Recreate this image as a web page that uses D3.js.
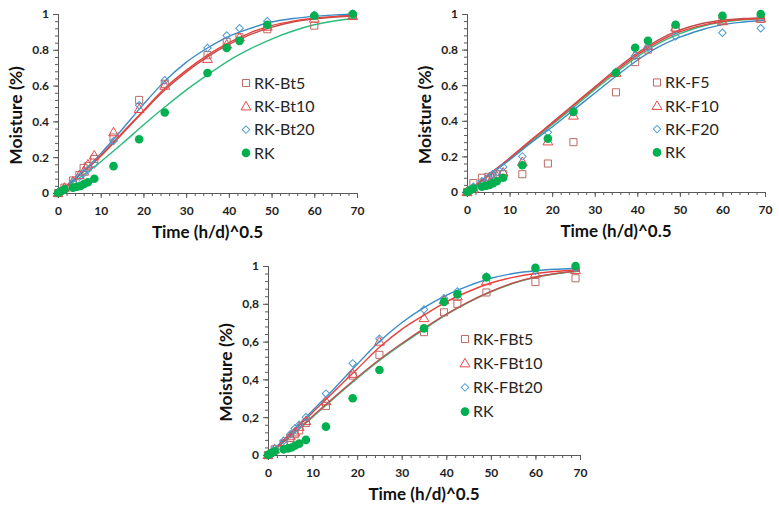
<!DOCTYPE html>
<html>
<head>
<meta charset="utf-8">
<script src="https://cdn.jsdelivr.net/npm/d3@7"></script>
<style>
  body { margin: 0; background: #fff; }
  text { font-family: Lato, "Open Sans", sans-serif; }
</style>
</head>
<body>
<svg id="chart" width="779" height="509"></svg>
<script>
// measured times, (h/d)^0.5
const timeX = [0, 1.5, 3.5, 5, 6, 7, 8.5, 13, 19, 25, 35, 39.5, 42.5, 49, 60, 69];
const rkX = [0, 0.7, 1.5, 3.5, 4.5, 5.3, 6.1, 7, 8.5, 13, 19, 25, 35, 39.5, 42.5, 49, 60, 69];
const rkY = [0, 0.01, 0.02, 0.03, 0.035, 0.04, 0.05, 0.06, 0.08, 0.15, 0.30, 0.45, 0.67, 0.81, 0.85, 0.94, 0.99, 1.0];

// panel 1 - bentonite
const bt5 = [0, 0.03, 0.07, 0.10, 0.14, 0.15, 0.19, 0.31, 0.52, 0.61, 0.77, 0.845, 0.87, 0.915, 0.935, 0.99];
const bt10 = [0, 0.03, 0.065, 0.10, 0.12, 0.16, 0.21, 0.34, 0.47, 0.60, 0.75, 0.83, 0.87, 0.93, 0.975, 0.99];
const bt20 = [0, 0.02, 0.06, 0.09, 0.11, 0.13, 0.16, 0.29, 0.49, 0.63, 0.81, 0.88, 0.92, 0.96, 0.995, 1.0];

// panel 2 - fibre
const f5 = [0, 0.05, 0.08, 0.085, 0.09, 0.10, 0.10, 0.10, 0.16, 0.28, 0.56, 0.73, 0.80, 0.92, 0.965, 0.972];
const f10 = [0, 0.02, 0.05, 0.07, 0.08, 0.09, 0.11, 0.17, 0.285, 0.43, 0.67, 0.77, 0.82, 0.925, 0.96, 0.975];
const f20 = [0, 0.03, 0.06, 0.08, 0.10, 0.11, 0.14, 0.20, 0.335, 0.46, 0.675, 0.765, 0.81, 0.875, 0.895, 0.92];

// panel 3 - fibre + bentonite
const fbt5 = [0, 0.03, 0.06, 0.09, 0.11, 0.13, 0.17, 0.26, 0.42, 0.53, 0.65, 0.755, 0.80, 0.86, 0.915, 0.935];
const fbt10 = [0, 0.03, 0.07, 0.10, 0.12, 0.15, 0.18, 0.285, 0.43, 0.60, 0.725, 0.82, 0.84, 0.92, 0.96, 0.98];
const fbt20 = [0, 0.035, 0.075, 0.11, 0.14, 0.16, 0.20, 0.325, 0.485, 0.615, 0.77, 0.83, 0.865, 0.945, 0.975, 0.99];

// fitted model curves
const fitX = [0, 5, 10, 15, 20, 25, 30, 35, 40, 45, 50, 55, 60, 65, 70];
const fitBt5 = [0, 0.10, 0.205, 0.33, 0.455, 0.575, 0.675, 0.76, 0.83, 0.885, 0.925, 0.955, 0.972, 0.983, 0.99];
const fitBt10 = [0, 0.10, 0.21, 0.335, 0.46, 0.585, 0.685, 0.77, 0.84, 0.895, 0.935, 0.96, 0.976, 0.987, 0.993];
const fitBt20 = [0, 0.10, 0.22, 0.355, 0.495, 0.625, 0.73, 0.81, 0.875, 0.92, 0.955, 0.975, 0.987, 0.995, 1.0];
const fitRK = [0, 0.085, 0.175, 0.275, 0.38, 0.48, 0.575, 0.66, 0.74, 0.805, 0.86, 0.905, 0.94, 0.962, 0.978];
const fitF5 = [0, 0.095, 0.19, 0.29, 0.39, 0.49, 0.59, 0.69, 0.78, 0.855, 0.91, 0.945, 0.965, 0.975, 0.98];
const fitF10 = [0, 0.095, 0.19, 0.29, 0.385, 0.485, 0.585, 0.68, 0.77, 0.845, 0.90, 0.935, 0.958, 0.97, 0.975];
const fitF20 = [0, 0.09, 0.18, 0.275, 0.365, 0.46, 0.555, 0.65, 0.74, 0.815, 0.87, 0.91, 0.94, 0.955, 0.965];
const fitRK2 = [0, 0.093, 0.185, 0.28, 0.378, 0.475, 0.575, 0.67, 0.76, 0.835, 0.89, 0.93, 0.955, 0.968, 0.975];
const fitFBt5 = [0, 0.10, 0.205, 0.31, 0.41, 0.505, 0.59, 0.67, 0.745, 0.81, 0.865, 0.91, 0.942, 0.962, 0.975];
const fitFBt10 = [0, 0.11, 0.225, 0.34, 0.455, 0.57, 0.665, 0.74, 0.81, 0.865, 0.91, 0.94, 0.96, 0.972, 0.98];
const fitFBt20 = [0, 0.115, 0.235, 0.355, 0.48, 0.60, 0.70, 0.78, 0.845, 0.895, 0.935, 0.96, 0.975, 0.983, 0.988];
const fitRK3 = [0, 0.098, 0.2, 0.305, 0.405, 0.5, 0.585, 0.665, 0.742, 0.808, 0.863, 0.908, 0.94, 0.96, 0.973];

const xTicks = [0, 10, 20, 30, 40, 50, 60, 70];
const yTicks = [0, 0.2, 0.4, 0.6, 0.8, 1];

const colors = {
  sq: "#bb6a64", sqLine: "#c0504d",
  tri: "#e5484a", triLine: "#e8403c",
  dia: "#4c9dd3", diaLine: "#3a8cc6",
  rk: "#00b050", rkLine: "#2dbb7c"
};

const panels = [
  { x0: 58, x1: 357, y0: 14, y1: 193, comma: false, legY: 83, legX: 246, gap: 23.3,
    names: ["RK-Bt5", "RK-Bt10", "RK-Bt20", "RK"], series: [bt5, bt10, bt20],
    fits: [fitBt5, fitBt10, fitBt20, fitRK] },
  { x0: 467, x1: 765, y0: 14, y1: 192, comma: false, legY: 82.5, legX: 657, gap: 23.3,
    names: ["RK-F5", "RK-F10", "RK-F20", "RK"], series: [f5, f10, f20],
    fits: [fitF5, fitF10, fitF20, fitRK2] },
  { x0: 268, x1: 580, y0: 266, y1: 455, comma: true, legY: 339, legX: 465, gap: 24.2,
    names: ["RK-FBt5", "RK-FBt10", "RK-FBt20", "RK"], series: [fbt5, fbt10, fbt20],
    fits: [fitFBt5, fitFBt10, fitFBt20, fitRK3] }
];

const svg = d3.select("#chart");
const squareSym = d3.symbol().type(d3.symbolSquare).size(50);
const triSym = d3.symbol().type(d3.symbolTriangle).size(42);
const diaSym = d3.symbol().type(d3.symbolSquare).size(28);

function drawMarker(g, kind, cx, cy) {
  if (kind === 0) {
    g.append("path").attr("d", squareSym()).attr("transform", `translate(${cx},${cy})`)
      .attr("fill", "none").attr("stroke", colors.sq).attr("stroke-width", 1);
  } else if (kind === 1) {
    g.append("path").attr("d", triSym()).attr("transform", `translate(${cx},${cy + 0.8})`)
      .attr("fill", "none").attr("stroke", colors.tri).attr("stroke-width", 1);
  } else if (kind === 2) {
    g.append("path").attr("d", diaSym()).attr("transform", `translate(${cx},${cy}) rotate(45)`)
      .attr("fill", "none").attr("stroke", colors.dia).attr("stroke-width", 1);
  } else {
    g.append("circle").attr("cx", cx).attr("cy", cy).attr("r", 4.3).attr("fill", colors.rk);
  }
}

function drawPanel(p) {
  const x = d3.scaleLinear([0, 70], [p.x0, p.x1]);
  const y = d3.scaleLinear([0, 1], [p.y1, p.y0]);
  const g = svg.append("g");
  const fmt = d => p.comma ? String(d).replace(".", ",") : String(d);

  // minor ticks
  g.append("g").attr("transform", `translate(0,${p.y1})`)
    .call(d3.axisBottom(x).tickValues(d3.range(0, 71, 2)).tickSize(3).tickFormat(""));
  g.append("g").attr("transform", `translate(${p.x0},0)`)
    .call(d3.axisLeft(y).tickValues(d3.range(0, 1.001, 0.04)).tickSize(3).tickFormat(""));

  // major ticks
  g.append("g").attr("transform", `translate(0,${p.y1})`)
    .call(d3.axisBottom(x).tickValues(xTicks).tickSize(5).tickPadding(8).tickFormat(fmt));
  g.append("g").attr("transform", `translate(${p.x0},0)`)
    .call(d3.axisLeft(y).tickValues(yTicks).tickSize(5).tickPadding(4).tickFormat(fmt));

  g.selectAll(".domain").attr("stroke", "#595959");
  g.selectAll(".tick line").attr("stroke", "#595959");
  g.selectAll(".tick text").attr("fill", "#1e1e1e").attr("font-size", 12)
    .attr("font-weight", "bold").attr("font-family", "Lato, sans-serif");

  // axis titles
  const cx = (p.x0 + p.x1) / 2;
  g.append("text").attr("x", cx).attr("y", p.y1 + 45).attr("text-anchor", "middle")
    .attr("font-size", 17).attr("font-weight", "bold").attr("fill", "#111")
    .text("Time (h/d)^0.5");
  g.append("text").attr("transform", `translate(${p.x0 - 36},${(p.y0 + p.y1) / 2 + 12}) rotate(-90)`)
    .attr("text-anchor", "middle").attr("font-size", 17.5).attr("font-weight", "bold")
    .attr("fill", "#111").text("Moisture (%)");

  // fitted curves
  const line = d3.line().x(d => x(d[0])).y(d => y(d[1])).curve(d3.curveMonotoneX);
  const lineColors = [colors.sqLine, colors.triLine, colors.diaLine, colors.rkLine];
  const order = [3, 0, 1, 2];
  order.forEach(i => {
    g.append("path").datum(fitX.map((v, k) => [v, p.fits[i][k]]))
      .attr("fill", "none").attr("stroke", lineColors[i]).attr("stroke-width", 1.4)
      .attr("d", line);
  });

  // measured points
  p.series.forEach((s, i) => {
    timeX.forEach((t, k) => drawMarker(g, i, x(t), y(s[k])));
  });
  rkX.forEach((t, k) => drawMarker(g, 3, x(t), y(rkY[k])));

  // legend
  p.names.forEach((n, i) => {
    const ly = p.legY + i * p.gap;
    drawMarker(g, i, p.legX, ly);
    g.append("text").attr("x", p.legX + 8).attr("y", ly + 5.8).attr("font-size", 16)
      .attr("fill", "#262626").text(n);
  });
}

panels.forEach(drawPanel);
</script>
</body>
</html>
